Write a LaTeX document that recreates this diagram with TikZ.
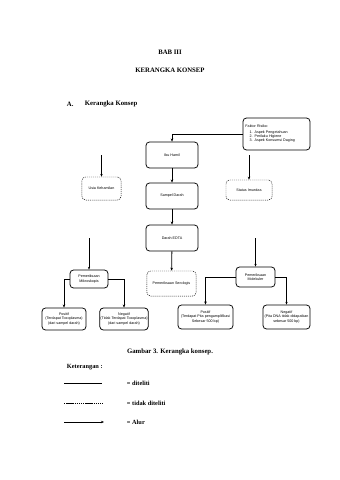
\documentclass[tikz,border=0pt]{standalone}
\usepackage{fontspec}
\setmainfont{Liberation Serif}
\newfontfamily\boxfont{Liberation Sans}
\usetikzlibrary{arrows.meta, positioning}

\begin{document}
\begin{tikzpicture}[
        x=0.025cm, y=-0.025cm,
        box/.style={draw, rectangle, rounded corners=2.5pt, line width=0.55pt, align=center, inner sep=0.5pt, font=\boxfont\fontsize{2.6}{3.1}\selectfont},
        dbox/.style={box, dash pattern=on 0.7pt off 0.7pt, line width=0.35pt},
        arrow/.style={-{Stealth[length=2.2pt, width=1.8pt]}, line width=0.6pt},
        thinarrow/.style={-{Stealth[length=2pt, width=1.6pt]}, line width=0.3pt},
        heading/.style={font=\bfseries\fontsize{4.8}{5.8}\selectfont},
        legend/.style={anchor=west, font=\bfseries\fontsize{4.5}{5.4}\selectfont}
    ]
        \useasboundingbox (0,0) rectangle (340,480);
        % Headings
        \node[heading] (bab) at (170,52) {BAB III};
        \node[heading] (judul) at (170,70) {KERANGKA KONSEP};
        \node[heading, anchor=west] (sub) at (62,104) {A.};
        \node[heading, anchor=west] (subjudul) at (80,104) {Kerangka Konsep};

        % Nodes
        \node[box, minimum width=1.675cm, minimum height=0.8cm, text width=1.55cm, align=left] (faktor) at (276.5,134)
            {Faktor Risiko:\\[0.6pt]
             \hspace*{3pt}1. Aspek Pengetahuan\\
             \hspace*{3pt}2. Perilaku Higiene\\
             \hspace*{3pt}3. Aspek Konsumsi Daging};
        \node[box, minimum width=1.3cm, minimum height=0.65cm] (hamil) at (172,155) {Ibu Hamil};
        \node[box, minimum width=1.3cm, minimum height=0.65cm] (sampel) at (172,196) {Sampel Darah};
        \node[box, minimum width=1.3cm, minimum height=0.65cm] (edta) at (172,238) {Darah EDTA};
        \node[dbox, minimum width=0.975cm, minimum height=0.575cm] (usia) at (101.5,188.5) {Usia Kehamilan};
        \node[dbox, minimum width=1.15cm, minimum height=0.5cm] (imun) at (249,190) {Status Imunitas};
        \node[box, minimum width=0.95cm, minimum height=0.45cm] (mikro) at (89,279) {Pemeriksaan\\Mikroskopis};
        \node[box, minimum width=1.1cm, minimum height=0.55cm] (posmik) at (64,319) {Positif\\(Terdapat Toxoplasma)\\(dari sampel darah)};
        \node[box, minimum width=1.175cm, minimum height=0.55cm] (negmik) at (124,319) {Negatif\\(Tidak Terdapat Toxoplasma)\\(dari sampel darah)};
        \node[dbox, minimum width=1.225cm, minimum height=0.625cm] (sero) at (171.5,283.5) {Pemeriksaan Serologis};
        \node[box, minimum width=0.975cm, minimum height=0.5cm] (molek) at (255.5,277) {Pemeriksaan\\Molekuler};
        \node[box, minimum width=1.375cm, minimum height=0.6cm] (posmol) at (205.5,317) {Positif\\(Terdapat Pita pengamplifikasi\\Sebesar 500 bp)};
        \node[box, minimum width=1.175cm, minimum height=0.6cm] (negmol) at (286.5,317) {Negatif\\(Pita DNA tidak didapatkan\\sebesar 500 bp)};

        % free ends
        \coordinate (usiaIn) at (101.5,155);
        \coordinate (mikroIn) at (89,238);
        \coordinate (molekIn) at (255.5,238);

        % Arrows
        \draw[arrow] (faktor.west) -| (hamil.north);
        \draw[arrow, shorten <=3.5pt] (faktor.south -| imun.north) -- (imun.north);
        \draw[arrow] (hamil) -- (sampel);
        \draw[arrow] (sampel) -- (edta);
        \draw[arrow] (edta) -- (sero);
        \draw[thinarrow] (usiaIn) -- (usia);
        \draw[thinarrow] (mikroIn) -- (mikro);
        \draw[thinarrow] (molekIn) -- (molek);
        \draw[arrow] (mikro.west) -| (posmik.north);
        \draw[arrow] (mikro.east) -| (negmik.north);
        \draw[arrow] (molek.west) -| (posmol.north);
        \draw[thinarrow] (molek.east) -| (negmol.north);

        % Caption and legend
        \node[heading] (gambar) at (170,352) {Gambar 3. Kerangka konsep.};
        \node[legend, anchor=west] (ket) at (62,367) {Keterangan :};
        \coordinate (solidA) at (64,383);
        \coordinate (solidB) at (102,383);
        \coordinate (dashA) at (64,403);
        \coordinate (dashB) at (102,403);
        \coordinate (alurA) at (64,422);
        \coordinate (alurB) at (104,422);
        \draw[line width=0.7pt] (solidA) -- (solidB);
        \draw[line width=0.5pt, dash pattern=on 1pt off 0.5pt] (dashA) -- (dashB);
        \draw[arrow] (alurA) -- (alurB);
        \node[legend] (diteliti) at (122,383) {= diteliti};
        \node[legend] (tidak) at (122,403) {= tidak diteliti};
        \node[legend] (alur) at (122,422) {= Alur};
    \end{tikzpicture}
\end{document}
